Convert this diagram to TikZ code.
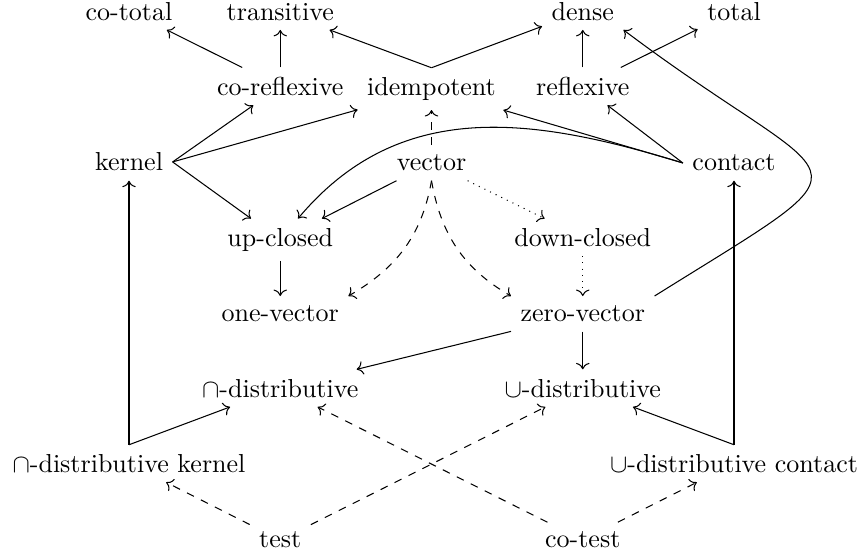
\documentclass[tikz,border=0pt]{standalone}
\usetikzlibrary{arrows.meta}
\begin{document}
\begin{tikzpicture}[x=0.38462pt, y=0.38462pt,
  lbl/.style={anchor=base, inner sep=3.5pt},
  arr/.style={-{Computer Modern Rightarrow}},
  dasharr/.style={arr, dashed},
  dotarr/.style={arr, dotted}]
\useasboundingbox (0,0) rectangle (861,-559);
% columns 129, 280.25, 431.5, 582.75, 734 ; baselines rows
\node[lbl] (cototal) at (129,-20) {co-total};
\node[lbl] (trans) at (280.25,-20) {transitive};
\node[lbl] (dense) at (582.75,-20) {dense};
\node[lbl] (total) at (734,-20) {total};
\node[lbl] (corefl) at (280.25,-95.4) {co-reflexive};
\node[lbl] (idem) at (431.5,-95.4) {idempotent};
\node[lbl] (refl) at (582.75,-95.4) {reflexive};
\node[lbl] (kernel) at (129,-170.8) {kernel};
\node[lbl] (vector) at (431.5,-170.8) {vector};
\node[lbl] (contact) at (734,-170.8) {contact};
\node[lbl] (upc) at (280.25,-246.2) {up-closed};
\node[lbl] (downc) at (582.75,-246.2) {down-closed};
\node[lbl] (onev) at (280.25,-321.6) {one-vector};
\node[lbl] (zerov) at (582.75,-321.6) {zero-vector};
\node[lbl] (capd) at (280.25,-397) {$\cap$-distributive};
\node[lbl] (cupd) at (582.75,-397) {$\cup$-distributive};
\node[lbl] (capk) at (129,-472.4) {$\cap$-distributive kernel};
\node[lbl] (cupc) at (734,-472.4) {$\cup$-distributive contact};
\node[lbl] (test) at (280.25,-547.8) {test};
\node[lbl] (cotest) at (582.75,-547.8) {co-test};
% solid arrows
\draw[arr] (corefl) -- (cototal);
\draw[arr] (corefl) -- (trans);
\draw[arr] (idem.north) -- (trans);
\draw[arr] (idem.north) -- (dense);
\draw[arr] (refl) -- (dense);
\draw[arr] (refl) -- (total);
\draw[arr] (kernel.east) -- (corefl);
\draw[arr] (kernel.east) -- (idem);
\draw[arr] (kernel.east) -- (upc);
\draw[arr] (contact.west) -- (idem);
\draw[arr] (contact.west) -- (refl);
\draw[arr] (contact.west) to[out=163, in=50, looseness=1.04] (upc);
\draw[arr] (vector) -- (upc);
\draw[arr] (upc) -- (onev);
\draw[arr] (zerov.north east) to[out=32, in=-37, looseness=2.65] (dense.south east);
\draw[arr] (zerov) -- (capd);
\draw[arr] (zerov) -- (cupd);
\draw[arr] (capk.north) -- (kernel);
\draw[arr] (capk.north) -- (capd);
\draw[arr] (cupc.north) -- (contact);
\draw[arr] (cupc.north) -- (cupd);
% dashed
\draw[dasharr] (vector) -- (idem);
\draw[dasharr] (vector.south) to[out=-100, in=30] (onev.north east);
\draw[dasharr] (vector.south) to[out=-80, in=150] (zerov.north west);
\draw[dasharr] (test) -- (capk);
\draw[dasharr] (test) -- (cupd);
\draw[dasharr] (cotest) -- (capd);
\draw[dasharr] (cotest) -- (cupc);
% dotted
\draw[dotarr] (vector) -- (downc);
\draw[dotarr] (downc) -- (zerov);
\end{tikzpicture}
\end{document}
